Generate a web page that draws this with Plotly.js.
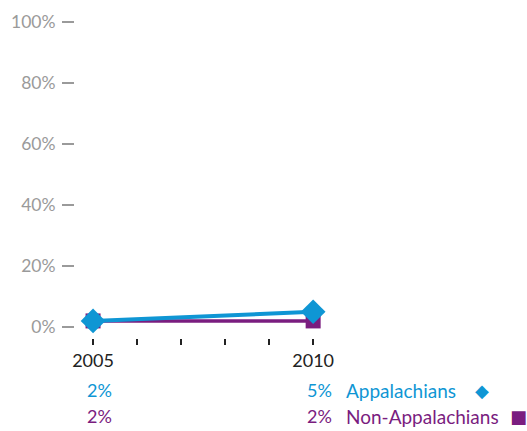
<!DOCTYPE html>
<html>
<head>
<meta charset="utf-8">
<script src="https://cdn.plot.ly/plotly-3.0.1.min.js"></script>
<style>
html,body{margin:0;padding:0;background:#fff;}
#chart{width:527px;height:431px;}
</style>
</head>
<body>
<div id="chart"></div>
<script>
// Data
var years = [2005, 2010];
var seriesNames = ["Appalachians", "Non-Appalachians"];
var appalachians = [2, 5];
var nonAppalachians = [2, 2];
var xTickVals = [2005, 2006, 2007, 2008, 2009, 2010];
var xTickText = ["2005", "", "", "", "", "2010"];
var yTickVals = [0, 20, 40, 60, 80, 100];
var yTickText = ["0%", "20%", "40%", "60%", "80%", "100%"];

var BLUE = "#0f96d4";
var PURPLE = "#7a1d7f";
var FONT = "Lato, 'Open Sans', sans-serif";

// plot-area geometry (pixels) used to place the below-axis text rows
var W = 527, H = 431, ML = 75, MR = 187, MT = 15, MB = 93;
var PW = W - ML - MR, PH = H - MT - MB;
function px2paperX(px){ return (px - ML) / PW; }
function px2paperY(py){ return (H - MB - py) / PH; }

var traces = [
  {
    x: years, y: nonAppalachians, name: seriesNames[1],
    type: "scatter", mode: "lines+markers",
    line: {color: PURPLE, width: 3.5},
    marker: {symbol: "square", size: 15, color: PURPLE},
    cliponaxis: false, hoverinfo: "none"
  },
  {
    x: years, y: appalachians, name: seriesNames[0],
    type: "scatter", mode: "lines+markers",
    line: {color: BLUE, width: 4},
    marker: {symbol: "diamond", size: 19, color: BLUE},
    cliponaxis: false, hoverinfo: "none"
  }
];

var annotations = [];
function pct(v){ return v + "%"; }
var rows = [
  {vals: appalachians, color: BLUE, y: 390, name: seriesNames[0], sym: "\u25C6", symX: 482},
  {vals: nonAppalachians, color: PURPLE, y: 416, name: seriesNames[1], sym: "\u25A0", symX: 518}
];
rows.forEach(function(r){
  for (var i = 0; i < years.length; i++) {
    annotations.push({
      x: years[i], xref: "x", y: px2paperY(r.y), yref: "paper",
      text: pct(r.vals[i]), showarrow: false,
      xanchor: "right", yanchor: "middle", xshift: 21,
      font: {family: FONT, size: 18, color: r.color}
    });
  }
  annotations.push({
    x: px2paperX(344), xref: "paper", y: px2paperY(r.y), yref: "paper",
    text: r.name, showarrow: false, xanchor: "left", yanchor: "middle",
    font: {family: FONT, size: 19, color: r.color}
  });
  annotations.push({
    x: px2paperX(r.symX), xref: "paper", y: px2paperY(r.y), yref: "paper",
    text: r.sym, showarrow: false, xanchor: "center", yanchor: "middle",
    font: {family: "DejaVu Sans", size: 18, color: r.color}
  });
});

var layout = {
  width: W, height: H,
  margin: {l: ML, r: MR, t: MT, b: MB},
  paper_bgcolor: "#fff", plot_bgcolor: "#fff",
  showlegend: false,
  xaxis: {
    range: [2004.59, 2010.61],
    tickvals: xTickVals, ticktext: xTickText,
    ticks: "outside", ticklen: 6, tickwidth: 2, tickcolor: "#222",
    showgrid: false, zeroline: false, showline: false,
    tickfont: {family: FONT, size: 18, color: "#222"},
    fixedrange: true
  },
  yaxis: {
    range: [-3.6, 102.3],
    tickvals: yTickVals, ticktext: yTickText,
    ticks: "outside", ticklen: 12, tickwidth: 2, tickcolor: "#9a9a9a",
    showgrid: false, zeroline: false, showline: false,
    tickfont: {family: FONT, size: 17.5, color: "#9a9a9a"},
    ticklabelstandoff: 3,
    fixedrange: true
  },
  annotations: annotations
};

Plotly.newPlot("chart", traces, layout, {displayModeBar: false, staticPlot: true});
</script>
</body>
</html>
